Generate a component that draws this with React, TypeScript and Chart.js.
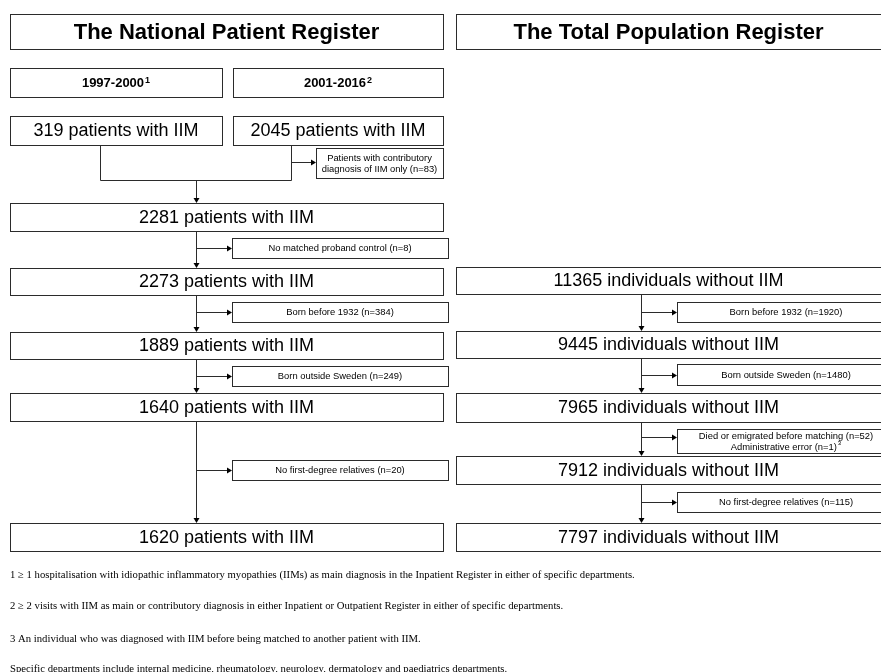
import React, { useEffect, useRef } from "react";
import { Chart, registerables } from "chart.js";

Chart.register(...registerables);

// ---------- content ----------
const registerTitles = ["The National Patient Register", "The Total Population Register"];
const periodLabels = ["1997-2000", "2001-2016"];
const periodSup = ["1", "2"];
const sourceCounts = [319, 2045];
const patientCounts = [2281, 2273, 1889, 1640, 1620];
const controlCounts = [11365, 9445, 7965, 7912, 7797];
const contributoryExclusion = ["Patients with contributory", "diagnosis of IIM only (n=83)"];
const patientExclusions = [
  "No matched proband control (n=8)",
  "Born before 1932 (n=384)",
  "Born outside Sweden (n=249)",
  "No first-degree relatives (n=20)",
];
const controlExclusions = [
  ["Born before 1932 (n=1920)"],
  ["Born outside Sweden (n=1480)"],
  ["Died or emigrated before matching (n=52)", "Administrative error (n=1)"],
  ["No first-degree relatives (n=115)"],
];
const controlExclusionSup = ["", "", "3", ""];
const footnotes = [
  "1 \u2265 1 hospitalisation with idiopathic inflammatory myopathies (IIMs) as main diagnosis in the Inpatient Register in either of specific departments.",
  "2 \u2265 2 visits with IIM as main or contributory diagnosis in either Inpatient or Outpatient Register in either of specific departments.",
  "3 An individual who was diagnosed with IIM before being matched to another patient with IIM.",
  "Specific departments include internal medicine, rheumatology, neurology, dermatology and paediatrics departments.",
];

// ---------- layout (diagram units) ----------
const leftCol = [10, 443];
const rightCol = [456, 881];
const headerRows = [14, 49];
const periodRow = [68, 97];
const periodCols = [[10, 222], [233, 443]];
const sourceRow = [116, 145];
const patientRows = [[203, 231], [268, 295], [332, 359], [393, 421], [523, 551]];
const controlRows = [[267, 294], [331, 358], [393, 422], [456, 484], [523, 551]];
const contributoryBox = [316, 443, 148, 178];
const patientExclRows = [[238, 258], [302, 322], [366, 386], [460, 480]];
const patientExclCols = [232, 448];
const controlExclRows = [[302, 322], [364, 385], [429, 453], [492, 512]];
const controlExclCols = [677, 895];
const patientSpine = 196;
const controlSpine = 641;
const sourceDrops = [100, 291];
const mergeY = 180;
const contributoryArrowY = 162;
const footnoteYs = [575, 606, 639, 669];

const SANS = '"Liberation Sans", Arial, Helvetica, sans-serif';
const SERIF = '"Liberation Serif", "Times New Roman", serif';
const STROKE = "#2b2b2b";

const flowPlugin = {
  id: "flow",
  afterDraw(chart: any) {
    const ctx: CanvasRenderingContext2D = chart.ctx;
    const xs = chart.scales.x;
    const ys = chart.scales.y;
    const X = (v: number) => Math.round(xs.getPixelForValue(v)) + 0.5;
    const Y = (v: number) => Math.round(ys.getPixelForValue(v)) + 0.5;

    ctx.save();
    ctx.strokeStyle = STROKE;
    ctx.fillStyle = "#000";
    ctx.lineWidth = 1;

    const box = (x0: number, x1: number, y0: number, y1: number) => {
      ctx.strokeRect(X(x0), Y(y0), X(x1) - X(x0), Y(y1) - Y(y0));
    };
    const text = (
      s: string,
      cx: number,
      cy: number,
      font: string,
      sup = "",
      supFont = "",
      supRise = 5
    ) => {
      ctx.font = font;
      const w = ctx.measureText(s).width;
      let sw = 0;
      if (sup) {
        ctx.font = supFont;
        sw = ctx.measureText(sup).width + 1;
      }
      const x = xs.getPixelForValue(cx) - (w + sw) / 2;
      const y = ys.getPixelForValue(cy);
      ctx.textBaseline = "middle";
      ctx.textAlign = "left";
      ctx.font = font;
      ctx.fillText(s, x, y);
      if (sup) {
        ctx.font = supFont;
        ctx.fillText(sup, x + w + 1, y - supRise);
      }
    };
    const line = (x0: number, y0: number, x1: number, y1: number) => {
      ctx.beginPath();
      ctx.moveTo(X(x0), Y(y0));
      ctx.lineTo(X(x1), Y(y1));
      ctx.stroke();
    };
    const arrowDown = (x: number, y0: number, y1: number) => {
      line(x, y0, x, y1 - 4);
      const px = X(x);
      const py = ys.getPixelForValue(y1);
      ctx.beginPath();
      ctx.moveTo(px - 3, py - 5);
      ctx.lineTo(px + 3, py - 5);
      ctx.lineTo(px, py);
      ctx.closePath();
      ctx.fill();
    };
    const arrowRight = (x0: number, x1: number, y: number) => {
      line(x0, y, x1 - 4, y);
      const px = xs.getPixelForValue(x1);
      const py = Y(y);
      ctx.beginPath();
      ctx.moveTo(px - 5, py - 3);
      ctx.lineTo(px - 5, py + 3);
      ctx.lineTo(px, py);
      ctx.closePath();
      ctx.fill();
    };

    // headers
    const cols = [leftCol, rightCol];
    cols.forEach((c, i) => {
      box(c[0], c[1], headerRows[0], headerRows[1]);
      text(registerTitles[i], (c[0] + c[1]) / 2, (headerRows[0] + headerRows[1]) / 2 + 1, `bold 22px ${SANS}`);
    });

    // periods and sources
    periodCols.forEach((c, i) => {
      box(c[0], c[1], periodRow[0], periodRow[1]);
      text(periodLabels[i], (c[0] + c[1]) / 2, (periodRow[0] + periodRow[1]) / 2 + 1, `bold 13px ${SANS}`, periodSup[i], `bold 9px ${SANS}`, 3);
      box(c[0], c[1], sourceRow[0], sourceRow[1]);
      text(`${sourceCounts[i]} patients with IIM`, (c[0] + c[1]) / 2, (sourceRow[0] + sourceRow[1]) / 2 + 1, `18px ${SANS}`);
    });

    // merge
    line(sourceDrops[0], sourceRow[1], sourceDrops[0], mergeY);
    line(sourceDrops[1], sourceRow[1], sourceDrops[1], mergeY);
    line(sourceDrops[0], mergeY, sourceDrops[1], mergeY);
    arrowRight(sourceDrops[1], contributoryBox[0], contributoryArrowY);
    box(contributoryBox[0], contributoryBox[1], contributoryBox[2], contributoryBox[3]);
    const cbx = (contributoryBox[0] + contributoryBox[1]) / 2;
    const cby = (contributoryBox[2] + contributoryBox[3]) / 2;
    text(contributoryExclusion[0], cbx, cby - 5, `9.4px ${SANS}`);
    text(contributoryExclusion[1], cbx, cby + 6, `9.4px ${SANS}`);
    arrowDown(patientSpine, mergeY, patientRows[0][0]);

    // patient column
    patientRows.forEach((r, i) => {
      box(leftCol[0], leftCol[1], r[0], r[1]);
      text(`${patientCounts[i]} patients with IIM`, (leftCol[0] + leftCol[1]) / 2, (r[0] + r[1]) / 2 + 1, `18px ${SANS}`);
      if (i < patientRows.length - 1) {
        arrowDown(patientSpine, r[1], patientRows[i + 1][0]);
        const e = patientExclRows[i];
        const ey = (e[0] + e[1]) / 2;
        arrowRight(patientSpine, patientExclCols[0], ey);
        box(patientExclCols[0], patientExclCols[1], e[0], e[1]);
        text(patientExclusions[i], (patientExclCols[0] + patientExclCols[1]) / 2, ey + 0.5, `9.4px ${SANS}`);
      }
    });

    // control column
    controlRows.forEach((r, i) => {
      box(rightCol[0], rightCol[1], r[0], r[1]);
      text(`${controlCounts[i]} individuals without IIM`, (rightCol[0] + rightCol[1]) / 2, (r[0] + r[1]) / 2 + 1, `18px ${SANS}`);
      if (i < controlRows.length - 1) {
        arrowDown(controlSpine, r[1], controlRows[i + 1][0]);
        const e = controlExclRows[i];
        const lines = controlExclusions[i];
        const ey = lines.length > 1 ? e[0] + 8 : (e[0] + e[1]) / 2;
        arrowRight(controlSpine, controlExclCols[0], ey);
        box(controlExclCols[0], controlExclCols[1], e[0], e[1]);
        const cx = (controlExclCols[0] + controlExclCols[1]) / 2;
        if (lines.length > 1) {
          text(lines[0], cx, e[0] + 7, `9.4px ${SANS}`);
          text(lines[1], cx, e[0] + 18, `9.4px ${SANS}`, controlExclusionSup[i], `6px ${SANS}`, 4);
        } else {
          text(lines[0], cx, (e[0] + e[1]) / 2 + 0.5, `9.4px ${SANS}`);
        }
      }
    });

    // footnotes
    ctx.font = `10.7px ${SERIF}`;
    ctx.textBaseline = "middle";
    ctx.textAlign = "left";
    footnotes.forEach((f, i) => {
      ctx.fillText(f, xs.getPixelForValue(10), ys.getPixelForValue(footnoteYs[i]));
    });

    ctx.restore();
  },
};

export default function App() {
  const ref = useRef<HTMLCanvasElement | null>(null);
  useEffect(() => {
    document.body.style.margin = "0";
    if (!ref.current) return;
    const chart = new Chart(ref.current, {
      type: "scatter",
      data: { datasets: [{ data: [], showLine: false }] },
      options: {
        animation: false,
        responsive: true,
        maintainAspectRatio: false,
        layout: { padding: 0 },
        plugins: { legend: { display: false }, tooltip: { enabled: false } },
        scales: {
          x: { type: "linear", min: 0, max: 881, display: false },
          y: { type: "linear", min: 0, max: 672, reverse: true, display: false },
        },
      },
      plugins: [flowPlugin],
    });
    return () => chart.destroy();
  }, []);
  return (
    <div style={{ width: 881, height: 672, position: "relative", background: "#fff" }}>
      <canvas ref={ref} />
    </div>
  );
}
